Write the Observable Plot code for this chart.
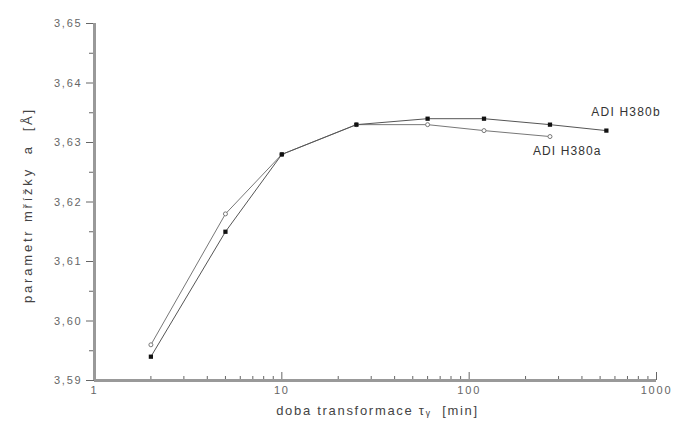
<!DOCTYPE html>
<html><head><meta charset="utf-8">
<script src="https://cdn.jsdelivr.net/npm/d3@7"></script>
<script src="https://cdn.jsdelivr.net/npm/@observablehq/plot@0.6"></script>
<style>
body{margin:0;background:#fff}
#chart svg{display:block}
g[aria-label="y-axis tick label"] text, g[aria-label="x-axis tick label"] text{letter-spacing:1.8px}
</style>
</head><body><div id="chart"></div>
<script>
const timesB = [2, 5, 10, 25, 60, 120, 270, 540];
const valuesB = [3.594, 3.615, 3.628, 3.633, 3.634, 3.634, 3.633, 3.632];
const timesA = [2, 5, 10, 25, 60, 120, 270];
const valuesA = [3.596, 3.618, 3.628, 3.633, 3.633, 3.632, 3.631];
const labelB = "ADI H380b";
const labelA = "ADI H380a";
const yMajor = [3.59, 3.60, 3.61, 3.62, 3.63, 3.64, 3.65];
const yMinor = [3.595, 3.605, 3.615, 3.625, 3.635, 3.645];
const xMajor = [1, 10, 100, 1000];
const xMinor = [2,3,4,5,6,7,8,9,20,30,40,50,60,70,80,90,200,300,400,500,600,700,800,900];
const yTitle = "parametr mřížky  a  [Å]";
const xTitle = "doba transformace τᵧ  [min]";

const dataB = timesB.map((t, i) => ({t, v: valuesB[i]}));
const dataA = timesA.map((t, i) => ({t, v: valuesA[i]}));
const font = "Liberation Sans, Arial, sans-serif";

const chart = Plot.plot({
  width: 677, height: 428,
  marginLeft: 94, marginRight: 21, marginTop: 23, marginBottom: 48,
  style: {fontFamily: font, background: "#fff"},
  x: {type: "log", domain: [1, 1000]},
  y: {domain: [3.59, 3.65]},
  marks: [
    Plot.axisY(yMajor, {tickSize: 8, tickPadding: 4, fontSize: 11, color: "#666", stroke: "#666",
      tickFormat: d => d3.format(".2f")(d).replace(".", ","), label: null}),
    Plot.axisY(yMinor, {tickSize: 5, text: null, stroke: "#666", label: null}),
    Plot.axisX(xMajor, {tickSize: -8, tickPadding: 14, fontSize: 11, color: "#666", stroke: "#666",
      tickFormat: d => String(d), label: null}),
    Plot.axisX(xMinor, {tickSize: -4, text: null, stroke: "#666", label: null}),
    Plot.ruleX([1], {stroke: "#999", strokeWidth: 3}),
    Plot.ruleY([3.59], {stroke: "#999", strokeWidth: 3}),
    Plot.line(dataA, {x: "t", y: "v", stroke: "#777", strokeWidth: 1}),
    Plot.line(dataB, {x: "t", y: "v", stroke: "#555", strokeWidth: 1}),
    Plot.dot(dataA, {x: "t", y: "v", r: 2, stroke: "#777", fill: "#fff", strokeWidth: 1}),
    Plot.dot(dataB, {x: "t", y: "v", symbol: "square", r: 2.4, fill: "#111", stroke: "none"}),
    Plot.text([dataB[dataB.length - 1]], {x: "t", y: "v", text: () => labelB, textAnchor: "start",
      dx: -15, dy: -18, fontSize: 12, fill: "#333"}),
    Plot.text([dataA[dataA.length - 1]], {x: "t", y: "v", text: () => labelA, textAnchor: "start",
      dx: -17, dy: 15, fontSize: 12, fill: "#333"}),
    Plot.text([yTitle], {frameAnchor: "left", textAnchor: "middle", rotate: -90, dx: -67, dy: 3, fontSize: 13, fill: "#444"}),
    Plot.text([xTitle], {frameAnchor: "bottom", dy: 34, dx: 2, fontSize: 13, fill: "#444"})
  ]
});
const spacing = new Map([[labelA, "1.1px"], [labelB, "1.2px"], [yTitle, "2.8px"], [xTitle, "1.7px"]]);
d3.select(chart).selectAll("text").each(function() {
  const s = spacing.get(this.textContent);
  if (s) this.setAttribute("letter-spacing", s);
});
document.getElementById("chart").append(chart);
</script>
</body></html>
